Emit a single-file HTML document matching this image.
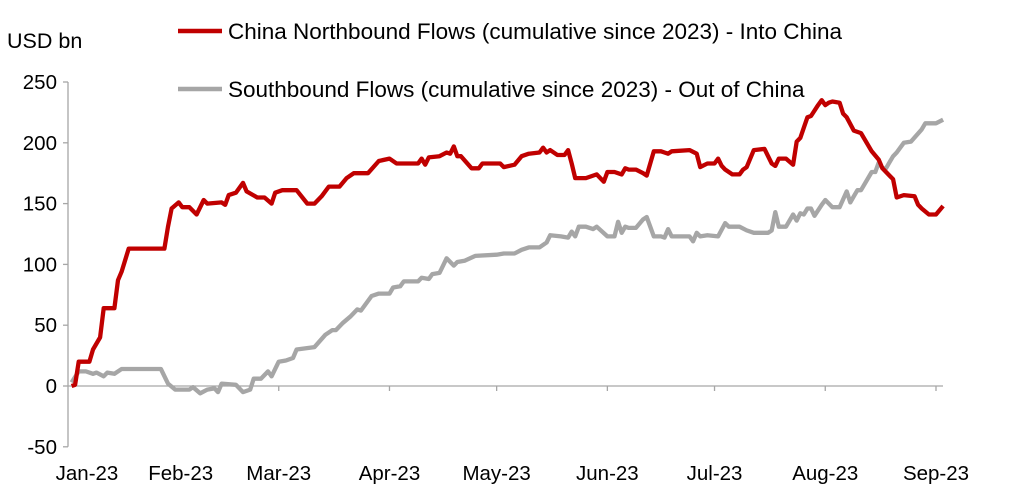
<!DOCTYPE html>
<html><head><meta charset="utf-8"><style>
body{margin:0;background:#fff;}
svg{display:block;font-family:"Liberation Sans",Arial,sans-serif;}
</style></head><body>
<svg id="chart" width="1022" height="490">
<text x="7" y="48" font-size="21.5" fill="#000">USD bn</text>
<g>
<line x1="178" y1="31" x2="222" y2="31" stroke="#c00000" stroke-width="4.5"/>
<text x="228" y="39" font-size="22.5">China Northbound Flows (cumulative since 2023) - Into China</text>
<line x1="178" y1="89" x2="222" y2="89" stroke="#a6a6a6" stroke-width="4.5"/>
<text x="228" y="97" font-size="22.5">Southbound Flows (cumulative since 2023) - Out of China</text>
</g>
<g id="axes"></g>
<g id="series"></g>
</svg>
<script>
const yTicks=[250,200,150,100,50,0,-50];
const monthLabels=["Jan-23","Feb-23","Mar-23","Apr-23","May-23","Jun-23","Jul-23","Aug-23","Sep-23"];
const monthDays=[0,31,59,90,120,151,181,212,243];
const northDays=[1,2,3,6,7,9,10,13,14,15,17,27,28,29,31,32,34,36,38,39,43,44,45,47,49,50,53,55,57,58,60,64,67,69,71,73,76,78,80,82,84,87,90,92,98,99,100,101,104,106,107,108,109,110,113,115,116,121,122,125,127,129,132,133,134,135,137,139,140,141,142,145,148,150,151,153,155,156,157,159,161,162,164,166,167,168,169,174,176,177,179,181,182,183,184,186,188,189,190,192,195,197,198,199,201,203,204,205,207,208,210,211,212,213,214,216,217,218,220,222,225,227,228,231,232,234,237,238,239,241,243,245];
const northVals=[0,1,20,20,30,40,64,64,87,94,113,113,131,146,151,147,147,141,153,150,151,149,157,159,167,160,155,155,150,159,161,161,150,150,156,164,164,171,175,175,175,185,187,183,183,187,182,188,189,192,191,197,189,189,179,179,183,183,180,182,189,191,192,196,192,194,190,190,194,183,171,171,174,168,176,176,174,179,178,178,175,173,193,193,192,191,193,194,191,180,183,183,187,181,178,174,174,178,180,194,195,183,181,187,187,182,201,204,221,222,231,235,231,233,234,233,224,221,210,208,193,186,179,170,155,157,156,149,146,141,141,148];
const southDays=[1,3,5,7,8,10,11,13,15,26,28,30,34,35,37,39,41,42,43,47,49,51,52,54,56,57,59,61,63,64,69,72,74,75,77,79,81,82,85,87,90,91,93,94,98,99,101,102,104,105,106,108,109,111,114,120,122,125,127,129,132,134,135,138,140,141,142,143,145,147,148,151,153,154,155,156,157,159,161,162,164,166,167,168,169,174,175,176,177,179,182,184,185,188,190,192,196,197,198,199,201,203,204,205,206,207,208,209,211,212,214,216,218,219,220,221,222,225,226,227,228,229,231,232,234,236,239,240,243,245];
const southVals=[3,12,12,10,11,8,11,10,14,14,2,-3,-3,-1,-6,-3,-2,-5,2,1,-5,-3,6,6,12,8,20,21,23,30,32,42,46,46,52,57,63,62,74,76,76,81,82,86,86,89,88,92,93,99,105,99,102,103,107,108,109,109,112,114,114,118,124,123,122,127,123,131,131,129,131,123,123,135,126,131,130,130,137,139,123,123,122,129,123,123,119,126,123,124,123,134,131,131,128,126,126,128,143,131,131,141,136,142,141,146,146,140,149,153,147,147,160,151,156,161,161,176,176,184,179,179,189,192,200,201,211,216,216,219];
const NS="http://www.w3.org/2000/svg";
const x=d=>68+d*3.572;
const y=v=>386-v*1.216;
const axes=document.getElementById('axes');
function mk(tag,attrs,parent){const e=document.createElementNS(NS,tag);for(const k in attrs)e.setAttribute(k,attrs[k]);parent.appendChild(e);return e;}
const yAxis=mk('line',{x1:68,y1:y(250),x2:68,y2:y(-50),stroke:'#a6a6a6','stroke-width':1.3},axes);


yTicks.forEach(t=>{
 const tk=mk('line',{x1:63,y1:y(t),x2:68,y2:y(t),stroke:'#a6a6a6','stroke-width':1.3},axes);
 
 
 const lb=mk('text',{x:57,y:y(t)+7,'font-size':20.5,'text-anchor':'end'},axes);
 lb.textContent=t;
 
 
});
const xAxis=mk('line',{x1:68,y1:y(0),x2:943,y2:y(0),stroke:'#a6a6a6','stroke-width':1.3},axes);


const labelOffsets=[19,2,0,0,0,0,0,0,0];
monthLabels.forEach((m,i)=>{
 const xp=x(monthDays[i]);
 if(i>1){const tk=mk('line',{x1:xp,y1:y(0),x2:xp,y2:y(0)+5,stroke:'#a6a6a6','stroke-width':1.3},axes);
 
 }
 const lb=mk('text',{x:xp+labelOffsets[i],y:480,'font-size':20.5,'text-anchor':'middle'},axes);
 lb.textContent=m;
 
 
});
const ser=document.getElementById('series');
function line(days,vals,color,name){
 const d=days.map((dd,i)=>(i?'L':'M')+x(dd).toFixed(1)+','+y(vals[i]).toFixed(1)).join('');
 const p=mk('path',{d:d,fill:'none',stroke:color,'stroke-width':4.3,'stroke-linejoin':'round'},ser);
 
 
}
line(southDays,southVals,'#a6a6a6','southbound-line');
line(northDays,northVals,'#c00000','northbound-line');
</script>
</body></html>
